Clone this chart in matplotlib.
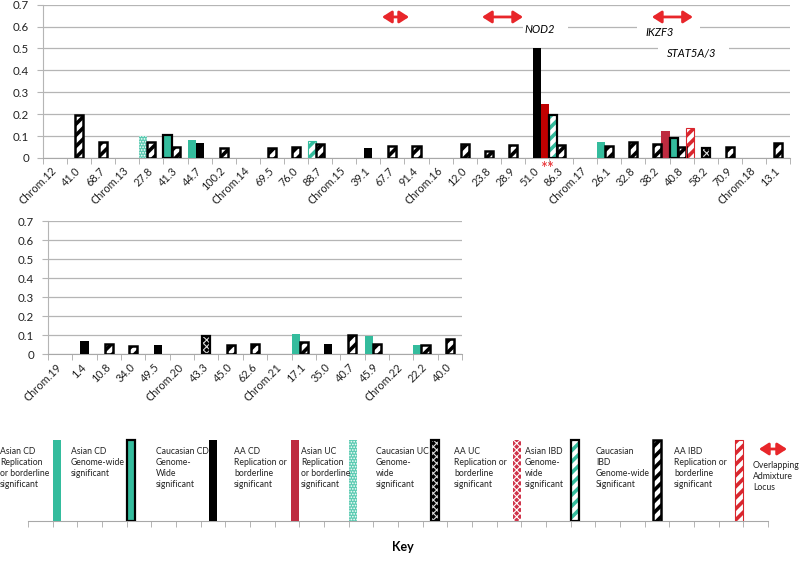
import numpy as np
import matplotlib
matplotlib.use("Agg")
import matplotlib.pyplot as plt
from matplotlib.patches import FancyArrowPatch, Rectangle

plt.rcParams['font.family'] = ['Lato', 'DejaVu Sans']
plt.rcParams['hatch.linewidth'] = 2.0

# top panel: chromosomes 12-18
top_labels = ["Chrom.12", "41.0", "68.7", "Chrom.13", "27.8", "41.3", "44.7", "100.2",
              "Chrom.14", "69.5", "76.0", "88.7", "Chrom.15", "39.1", "67.7", "91.4",
              "Chrom.16", "12.0", "23.8", "28.9", "51.0", "86.3", "Chrom.17", "26.1",
              "32.8", "38.2", "40.8", "58.2", "70.9", "Chrom.18", "13.1"]
top_asian = [0, 0, 0, 0, 0.100, 0.107, 0.082, 0, 0, 0, 0, 0.079, 0, 0, 0, 0,
             0, 0, 0, 0, 0, 0.197, 0, 0.073, 0, 0, 0.093, 0, 0, 0, 0]
top_asian_type = ["", "", "", "", "UC", "CD_GW", "CD", "", "", "", "", "IBD_rep", "", "", "", "",
                  "", "", "", "", "", "IBD", "", "CD", "", "", "CD_GW", "", "", "", ""]
top_cauc = [0, 0.195, 0.073, 0, 0.073, 0.049, 0.069, 0.047, 0, 0.046, 0.049, 0.066, 0, 0.044, 0.056, 0.056,
            0, 0.063, 0.032, 0.061, 0.500, 0.058, 0, 0.053, 0.073, 0.066, 0.050, 0.044, 0.049, 0, 0.070]
top_cauc_type = ["", "IBD", "IBD", "", "IBD", "IBD", "CD", "IBD", "", "IBD", "IBD", "IBD", "", "CD", "IBD", "IBD",
                 "", "IBD", "IBD", "IBD", "CD", "IBD", "", "IBD", "IBD", "IBD", "IBD", "UC", "IBD", "", "IBD"]
top_aa = [0] * 20 + [0.246, 0, 0, 0, 0, 0.122, 0.139, 0, 0, 0, 0]
top_aa_type = [""] * 20 + ["CD_nod2", "", "", "", "", "CD", "IBD", "", "", "", ""]

# bottom panel: chromosomes 19-22
bot_labels = ["Chrom.19", "1.4", "10.8", "34.0", "49.5", "Chrom.20", "43.3", "45.0", "62.6",
              "Chrom.21", "17.1", "35.0", "40.7", "45.9", "Chrom.22", "22.2", "40.0"]
bot_asian = [0, 0, 0, 0, 0, 0, 0, 0, 0, 0, 0.106, 0, 0, 0.098, 0, 0.047, 0]
bot_asian_type = ["", "", "", "", "", "", "", "", "", "", "CD", "", "", "CD", "", "CD", ""]
bot_cauc = [0, 0.068, 0.052, 0.045, 0.049, 0, 0.094, 0.049, 0.052, 0, 0.063, 0.052, 0.103, 0.052, 0, 0.049, 0.080]
bot_cauc_type = ["", "CD", "IBD", "IBD", "CD", "", "UC", "IBD", "IBD", "", "IBD", "CD", "IBD", "IBD", "", "IBD", "IBD"]

# key
key_text = ["Asian CD\nReplication\nor borderline\nsignificant",
            "Asian CD\nGenome-wide\nsignificant",
            "Caucasian CD\nGenome-\nWide\nsignificant",
            "AA CD\nReplication or\nborderline\nsignificant",
            "Asian UC\nReplication\nor borderline\nsignificant",
            "Caucasian UC\nGenome-\nwide\nsignificant",
            "AA UC\nReplication or\nborderline\nsignificant",
            "Asian IBD\nGenome-\nwide\nsignificant",
            "Caucasian\nIBD\nGenome-wide\nSignificant",
            "AA IBD\nReplication or\nborderline\nsignificant"]
key_group = ["asian", "asian", "cauc", "aa", "asian", "cauc", "aa", "asian", "cauc", "aa"]
key_type = ["CD", "CD_GW", "CD", "CD", "UC", "UC", "UC", "IBD", "IBD", "IBD"]

teal = "#34BC9D"
# face, hatch, hatch colour, border colour, border width
styles = {
    ("asian", "CD"): (teal, None, teal, None, 0),
    ("asian", "CD_GW"): (teal, None, teal, "black", 1.6),
    ("asian", "UC"): ("#5CCBB2", "......", "white", None, 0),
    ("asian", "IBD"): ("white", "///", teal, "black", 1.6),
    ("asian", "IBD_rep"): ("white", "///", teal, teal, 0.8),
    ("cauc", "CD"): ("black", None, "black", None, 0),
    ("cauc", "UC"): ("black", "xxxxx", "#DDDDDD", "black", 1.6),
    ("cauc", "IBD"): ("white", "///", "black", "black", 1.8),
    ("aa", "CD"): ("#BE2B40", None, "#BE2B40", None, 0),
    ("aa", "CD_nod2"): ("#C00000", None, "#C00000", None, 0),
    ("aa", "UC"): ("#D0344A", "xxxxx", "white", None, 0),
    ("aa", "IBD"): ("white", "///", "#D9262E", "#D9262E", 0.8),
}
slot = {"asian": -1 / 3, "cauc": 0, "aa": 1 / 3}


def draw_bar(ax, x, h, group, kind):
    face, hatch, hcol, border, blw = styles[(group, kind)]
    b = ax.bar(x + slot[group], h, 1 / 3, color=face, hatch=hatch, edgecolor=hcol, linewidth=0, zorder=3)
    if hatch and hasattr(b[0], "set_hatch_linewidth"):
        b[0].set_hatch_linewidth(2.6 if "/" in hatch else 0.8)
    if border:
        ax.bar(x + slot[group], h, 1 / 3, fill=False, edgecolor=border, linewidth=blw, zorder=4)


def setup_axis(ax, labels):
    n = len(labels)
    ax.set_xlim(-0.5, n - 0.5)
    ax.set_ylim(0, 0.7)
    ax.set_yticks(np.arange(0, 0.71, 0.1))
    ax.set_yticklabels(["0", "0.1", "0.2", "0.3", "0.4", "0.5", "0.6", "0.7"], fontsize=8.3, color="#222222")
    ax.yaxis.grid(True, color="#B5B5B5", linewidth=0.9)
    ax.set_axisbelow(True)
    for s in ["top", "right"]:
        ax.spines[s].set_visible(False)
    ax.spines["left"].set_color("#B5B5B5")
    ax.spines["bottom"].set_color("#A8A8A8")
    ax.set_xticks(np.arange(n))
    ax.set_xticklabels(labels, rotation=45, ha="right", va="center", rotation_mode="anchor",
                       fontsize=7.8, color="#222222")
    ax.set_xticks(np.arange(n + 1) - 0.5, minor=True)
    ax.tick_params(axis="x", which="major", length=0, pad=8)
    ax.tick_params(axis="x", which="minor", length=4, color="#A8A8A8")
    ax.tick_params(axis="y", length=4, color="#B5B5B5", pad=6)


fig = plt.figure(figsize=(8, 5.61), dpi=100)


def px_axes(l, t, r, b):
    return fig.add_axes([l / 800, 1 - b / 561, (r - l) / 800, (b - t) / 561])


ax1 = px_axes(43, 4.7, 790, 158)
setup_axis(ax1, top_labels)
for i in range(len(top_labels)):
    if top_asian[i] > 0:
        draw_bar(ax1, i, top_asian[i], "asian", top_asian_type[i])
    if top_cauc[i] > 0:
        draw_bar(ax1, i, top_cauc[i], "cauc", top_cauc_type[i])
    if top_aa[i] > 0:
        draw_bar(ax1, i, top_aa[i], "aa", top_aa_type[i])

arrow_style = "<|-|>,head_length=0.7,head_width=0.45"

# gene annotations and admixture arrows
for x0, x1, y0, y1 in [(19.42, 21.29, 0.548, 0.63), (24.15, 26.76, 0.53, 0.62), (25.03, 27.98, 0.44, 0.525)]:
    ax1.add_patch(Rectangle((x0, y0), x1 - x0, y1 - y0, facecolor="white", edgecolor="none", zorder=2))
ax1.text(20.12, 0.589, "NOD2", style="italic", fontsize=8, ha="center", va="center", zorder=5)
ax1.text(25.1, 0.575, "IKZF3", style="italic", fontsize=8, ha="center", va="center", zorder=5)
ax1.text(26.4, 0.479, "STAT5A/3", style="italic", fontsize=8, ha="center", va="center", zorder=5)
for x0, x1 in [(13.57, 14.69), (17.72, 19.42), (24.77, 26.47)]:
    ax1.add_patch(FancyArrowPatch((x0, 0.644), (x1, 0.644), arrowstyle=arrow_style, mutation_scale=8,
                                  shrinkA=0, shrinkB=0, color="#E8262A", linewidth=2.0, zorder=5))
ax1.text(20.4, -0.012, "**", color="#E8262A", fontsize=12, ha="center", va="top", clip_on=False)

ax2 = px_axes(48, 221, 462, 354.3)
setup_axis(ax2, bot_labels)
for i in range(len(bot_labels)):
    if bot_asian[i] > 0:
        draw_bar(ax2, i, bot_asian[i], "asian", bot_asian_type[i])
    if bot_cauc[i] > 0:
        draw_bar(ax2, i, bot_cauc[i], "cauc", bot_cauc_type[i])

# key panel
ax3 = px_axes(28, 430, 768, 521)
ax3.set_xlim(-0.5, 29.5)
ax3.set_ylim(0, 1.13)
for k in range(len(key_text)):
    draw_bar(ax3, 1 + 3 * k, 1, key_group[k], key_type[k])
for s in ["top", "right", "left"]:
    ax3.spines[s].set_visible(False)
ax3.spines["bottom"].set_color("#A8A8A8")
ax3.set_yticks([])
ax3.set_xticks([])
ax3.set_xticks(np.arange(31) - 0.5, minor=True)
ax3.tick_params(axis="x", which="minor", length=4, color="#A8A8A8")
fig.text(403 / 800, 1 - 547 / 561, "Key", fontsize=9, fontweight="bold", ha="center", va="center")

key_x = [0, 71, 156, 234, 301, 376, 454, 525, 596, 674]
for k in range(len(key_text)):
    fig.text(key_x[k] / 800, 1 - 447 / 561, key_text[k], fontsize=6.2, va="top", ha="left",
             linespacing=1.3, color="#222222")
fig.text(753 / 800, 1 - 461 / 561, "Overlapping\nAdmixture\nLocus", fontsize=6.2, va="top", ha="left",
         linespacing=1.3, color="#222222")
fig.add_artist(FancyArrowPatch((759 / 800, 1 - 449 / 561), (787 / 800, 1 - 449 / 561),
                               transform=fig.transFigure, arrowstyle=arrow_style, mutation_scale=8,
                               shrinkA=0, shrinkB=0, color="#E8262A", linewidth=2.0))

fig.savefig("out.png", dpi=100)
